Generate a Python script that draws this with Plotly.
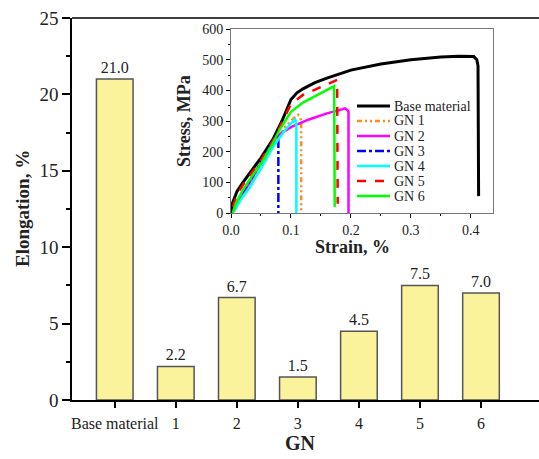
import plotly.graph_objects as go

categories = ["Base material", "1", "2", "3", "4", "5", "6"]
elongation = [21.0, 2.2, 6.7, 1.5, 4.5, 7.5, 7.0]

base_strain = [0.0, 0.002, 0.01, 0.02, 0.035, 0.05, 0.07, 0.085, 0.1, 0.11, 0.12, 0.14, 0.16, 0.2, 0.25, 0.3, 0.35, 0.38, 0.405, 0.41, 0.412, 0.413]
base_stress = [0, 30, 70, 100, 140, 180, 240, 300, 370, 392, 405, 425, 440, 466, 486, 500, 509, 511, 510, 500, 480, 55]

gn1_strain = [0.005, 0.015, 0.03, 0.05, 0.07, 0.09, 0.105, 0.112, 0.115, 0.117, 0.117]
gn1_stress = [5, 45, 85, 150, 220, 280, 310, 320, 315, 300, 0]

gn2_strain = [0.005, 0.015, 0.03, 0.05, 0.07, 0.08, 0.1, 0.13, 0.16, 0.185, 0.19, 0.194, 0.196, 0.196]
gn2_stress = [10, 50, 95, 165, 232, 255, 280, 305, 325, 338, 341, 336, 330, 0]

gn3_strain = [0.005, 0.015, 0.03, 0.05, 0.07, 0.077, 0.079, 0.079]
gn3_stress = [10, 55, 100, 168, 232, 252, 250, 0]

gn4_strain = [0.005, 0.015, 0.03, 0.05, 0.07, 0.09, 0.1, 0.107, 0.109, 0.109]
gn4_stress = [5, 40, 80, 145, 215, 270, 292, 305, 295, 0]

gn5_strain = [0.003, 0.01, 0.02, 0.035, 0.05, 0.07, 0.08, 0.1, 0.12, 0.15, 0.17, 0.177, 0.178]
gn5_stress = [20, 60, 92, 130, 172, 235, 275, 355, 385, 412, 428, 434, 30]

gn6_strain = [0.003, 0.008, 0.02, 0.035, 0.05, 0.07, 0.08, 0.1, 0.12, 0.15, 0.165, 0.172, 0.173]
gn6_stress = [0, 30, 75, 120, 160, 228, 268, 330, 360, 392, 406, 414, 20]

legend_names = ["Base material", "GN 1", "GN 2", "GN 3", "GN 4", "GN 5", "GN 6"]

curves = [
    (base_strain, base_stress, "black", "solid", 3),
    (gn1_strain, gn1_stress, "#FF8C1A", "5px,3px,2px,3px,2px,3px", 2.5),
    (gn2_strain, gn2_stress, "#FF00FF", "solid", 2.5),
    (gn3_strain, gn3_stress, "#0000FF", "dashdot", 2.5),
    (gn4_strain, gn4_stress, "#00FFFF", "solid", 2.5),
    (gn5_strain, gn5_stress, "#FF0000", "dash", 2.5),
    (gn6_strain, gn6_stress, "#00FF00", "solid", 2.5),
]

font = "Liberation Serif, Times New Roman, serif"

# plot area in pixels (for placing titles / legend)
L, R, T, B = 72, 539, 18, 400
PW, PH = R - L, B - T


def px(xp):
    return (xp - L) / PW


def py(yp):
    return (B - yp) / PH


fig = go.Figure()
fig.add_trace(go.Bar(
    x=categories, y=elongation, width=0.6,
    marker=dict(color="#FBF39B", line=dict(color="#555555", width=1.5)),
    text=[f"{v:.1f}" for v in elongation], textposition="outside",
    textfont=dict(family=font, size=16, color="#222"),
    cliponaxis=False, showlegend=False, xaxis="x", yaxis="y",
))

for name, (sx, sy, col, dash, w) in zip(legend_names, curves):
    fig.add_trace(go.Scatter(
        x=sx, y=sy, mode="lines", name=name, showlegend=False,
        line=dict(color=col, dash=dash, width=w),
        xaxis="x2", yaxis="y2",
    ))

shapes = [dict(type="line", xref="paper", yref="paper", x0=0, x1=1, y0=1, y1=1,
               line=dict(color="black", width=1.5))]
annotations = [
    dict(text="<b>Elongation, %</b>", x=px(22), y=py(209), textangle=-90,
         font=dict(size=19, family=font, color="#222")),
    dict(text="<b>GN</b>", x=px(300), y=py(443),
         font=dict(size=20, family=font, color="#222")),
    dict(text="<b>Stress, MPa</b>", x=px(184), y=py(121), textangle=-90,
         font=dict(size=18, family=font, color="#222")),
    dict(text="<b>Strain, %</b>", x=px(352), y=py(247),
         font=dict(size=18, family=font, color="#222")),
]
for a in annotations:
    a.update(xref="paper", yref="paper", showarrow=False, xanchor="center", yanchor="middle")

# legend drawn inside the inset
for i, (name, (sx, sy, col, dash, w)) in enumerate(zip(legend_names, curves)):
    yc = 106 + i * 15
    shapes.append(dict(type="line", xref="paper", yref="paper",
                       x0=px(357), x1=px(390), y0=py(yc), y1=py(yc),
                       line=dict(color=col, dash=dash, width=w)))
    annotations.append(dict(text=name, x=px(392), y=py(yc), xref="paper", yref="paper",
                            showarrow=False, xanchor="left", yanchor="middle",
                            font=dict(size=14, family=font, color="#222")))

fig.update_layout(
    width=539, height=459,
    margin=dict(l=L, r=539 - R, t=T, b=459 - B),
    paper_bgcolor="white", plot_bgcolor="white",
    font=dict(family=font, color="#222"),
    showlegend=False,
    xaxis=dict(
        domain=[0, 1], range=[-0.7, 6.95], type="category",
        showline=True, linecolor="black", linewidth=1.5, mirror=False,
        ticks="outside", ticklen=6, tickcolor="black", tickwidth=1.5,
        ticklabelstandoff=2,
        tickfont=dict(size=16, family=font, color="#222"), showgrid=False,
    ),
    yaxis=dict(
        domain=[0, 1], range=[0, 25], tickvals=[0, 5, 10, 15, 20, 25],
        showline=True, linecolor="black", linewidth=1.5,
        ticks="outside", ticklen=8, tickcolor="black", tickwidth=1.5,
        minor=dict(ticks="outside", ticklen=4, tickcolor="black", dtick=2.5, showgrid=False),
        tickfont=dict(size=19, family=font, color="#222"), showgrid=False, zeroline=False,
    ),
    xaxis2=dict(
        domain=[px(231), px(493)], anchor="y2", range=[0, 0.437],
        tickvals=[0, 0.1, 0.2, 0.3, 0.4], ticktext=["0.0", "0.1", "0.2", "0.3", "0.4"],
        showline=True, linecolor="#777", linewidth=1, mirror=True,
        ticks="outside", ticklen=4, tickcolor="black",
        minor=dict(ticks="outside", ticklen=2, tickcolor="black", dtick=0.05, showgrid=False),
        tickfont=dict(size=14, family=font, color="#222"), showgrid=False, zeroline=False,
    ),
    yaxis2=dict(
        domain=[py(213), py(29)], anchor="x2", range=[0, 600], dtick=100,
        showline=True, linecolor="#777", linewidth=1, mirror=True,
        ticks="outside", ticklen=4, tickcolor="black",
        minor=dict(ticks="outside", ticklen=2, tickcolor="black", dtick=50, showgrid=False),
        tickfont=dict(size=14, family=font, color="#222"), showgrid=False, zeroline=False,
    ),
    shapes=shapes,
    annotations=annotations,
)

fig.write_html("out.html")
